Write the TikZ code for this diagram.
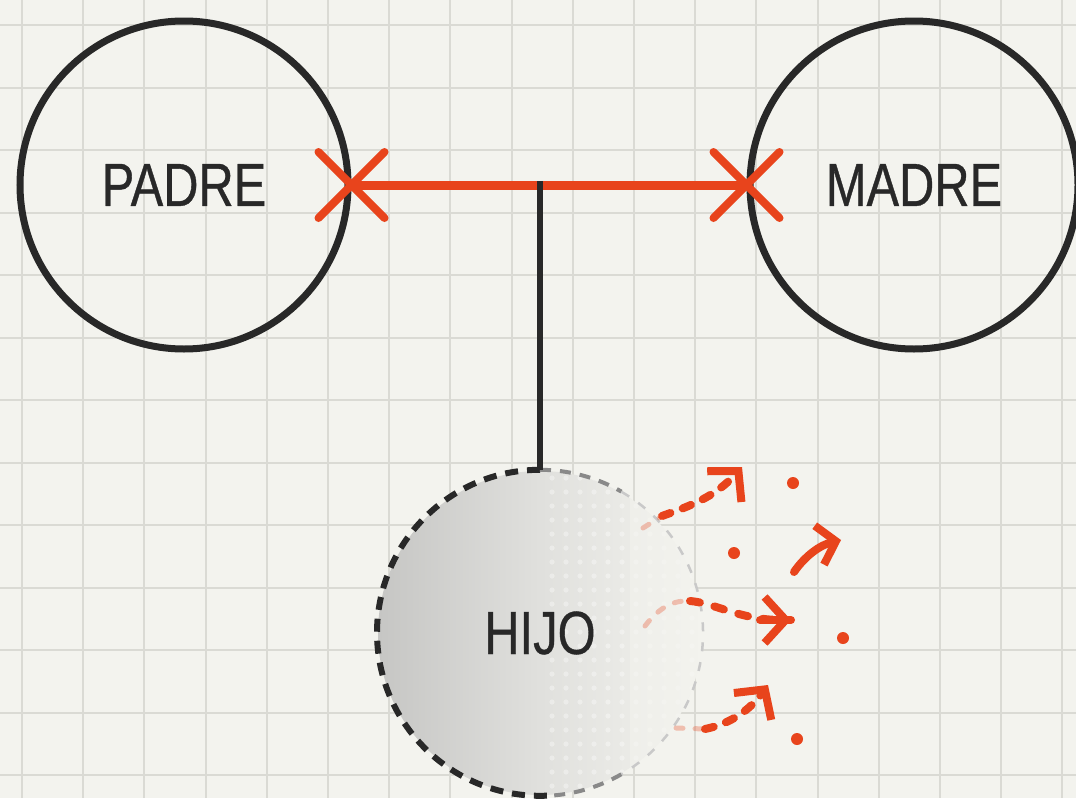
\documentclass[tikz,border=0pt]{standalone}
\usepackage{fontspec}
\newfontfamily\labelfont{Liberation Sans}[FakeStretch=0.8, FakeBold=0.6]
\usetikzlibrary{arrows.meta}
\definecolor{bg}{RGB}{243,243,238}
\definecolor{gridc}{RGB}{218,218,212}
\definecolor{ink}{RGB}{40,40,40}
\definecolor{redc}{RGB}{232,68,28}
\definecolor{fillg}{RGB}{198,198,196}
\tikzset{
  person/.style={circle, draw=ink, line width=7pt, inner sep=0pt, minimum size=328pt,
    font=\labelfont\fontsize{61}{70}\selectfont, text=ink},
  child/.style={circle, inner sep=0pt, minimum size=326pt,
    font=\labelfont\fontsize{61}{70}\selectfont, text=ink},
  couple/.style={draw=redc, line width=9pt},
  xmark/.style={draw=redc, line width=8pt, line cap=round},
  descent/.style={draw=ink, line width=6pt},
  scatter/.style={draw=redc, line width=8pt, line cap=round, dash pattern=on 9pt off 13pt,
    -{Straight Barb[length=21pt, width=46pt]}},
  scatterfade/.style={draw=redc, line width=5pt, line cap=round, dash pattern=on 7pt off 12pt, opacity=0.3},
  speck/.style={fill=redc},
}
\begin{document}
\begin{tikzpicture}[x=1pt, y=-1pt]
\useasboundingbox (0,0) rectangle (1076,798);
\fill[bg] (0,0) rectangle (1076,798);
% grid
\foreach \i in {0,...,17} \draw[gridc, line width=2pt] ({22+61.2*\i},0) -- ({22+61.2*\i},798);
\foreach \j in {0,...,12} \draw[gridc, line width=2pt] (0,{25+62.5*\j}) -- (1076,{25+62.5*\j});

% parents
\node[person] (padre) at (184,185) {PADRE};
\node[person] (madre) at (914,185) {MADRE};

% child fill
\begin{scope}
  \clip (540,633) circle (162pt);
  \shade[left color=fillg, right color=bg, middle color={rgb,255:red,224;green,224;blue,221}] (378,470) rectangle (702,796);
  \foreach \xx in {552,566,...,700} \foreach \yy in {478,492,...,790}
    \fill[white, opacity=0.35] (\xx,\yy) circle (2.6pt);
  \fill[bg, opacity=0.5] (630,470) rectangle (702,796);
\end{scope}
\node[child] (hijo) at (540,633) {HIJO};
% dashed outline fading to the right
\draw[ink, line width=6pt, dash pattern=on 13pt off 9pt] (hijo.north) arc[start angle=90, end angle=275, radius=163pt];
\draw[ink!55, line width=4pt, dash pattern=on 11pt off 9pt] (hijo.north) arc[start angle=90, end angle=60, radius=163pt];
\draw[ink!55, line width=4pt, dash pattern=on 11pt off 9pt] (hijo.center) ++(275:163pt) arc[start angle=275, end angle=300, radius=163pt];
\draw[ink!25, line width=2.5pt, dash pattern=on 9pt off 11pt] (hijo.center) ++(60:163pt) arc[start angle=60, end angle=-60, radius=163pt];

% couple line
\draw[couple] (padre.east) -- (madre.west);
\coordinate (mid) at (hijo.north |- padre.east);
\draw[descent] ([yshift=4pt]mid) -- (hijo.north);
\foreach \p in {padre.east, madre.west} {
  \draw[xmark] (\p) ++(-33pt,-33pt) -- ++(66pt,66pt);
  \draw[xmark] (\p) ++(-33pt,33pt) -- ++(66pt,-66pt);
}

% scattering arrows
\coordinate (a1s) at (643,528);
\coordinate (a1m) at (662,516);
\coordinate (a1e) at (742,467);
\draw[scatterfade] (a1s) -- (a1m);
\draw[scatter] (a1m) .. controls (690,506) and (715,497) .. (a1e);

\coordinate (a2s) at (645,626);
\coordinate (a2m) at (690,601);
\coordinate (a2e) at (791,620);
\draw[scatterfade] (a2s) .. controls (660,606) and (675,600) .. (a2m);
\draw[scatter, dash pattern=on 10pt off 15pt] (a2m) .. controls (715,603) and (740,620) .. (a2e);
\coordinate (a2k) at (760,620);
\draw[draw=redc, line width=8pt, line cap=round] (a2k) -- (a2e);

\coordinate (a3s) at (676,728);
\coordinate (a3m) at (705,729);
\coordinate (a3e) at (768,685);
\draw[scatterfade] (a3s) -- (a3m);
\draw[scatter] (a3m) .. controls (730,724) and (750,710) .. (a3e);

\coordinate (a4s) at (794,572);
\coordinate (a4e) at (841,540);
\draw[draw=redc, line width=8pt, line cap=round, -{Straight Barb[length=17pt, width=40pt]}] (a4s) .. controls (805,556) and (820,545) .. (a4e);

% specks
\fill[speck] (793,483) circle (6pt);
\fill[speck] (734,553) circle (6pt);
\fill[speck] (843,638) circle (6pt);
\fill[speck] (797,739) circle (6pt);
\end{tikzpicture}
\end{document}
